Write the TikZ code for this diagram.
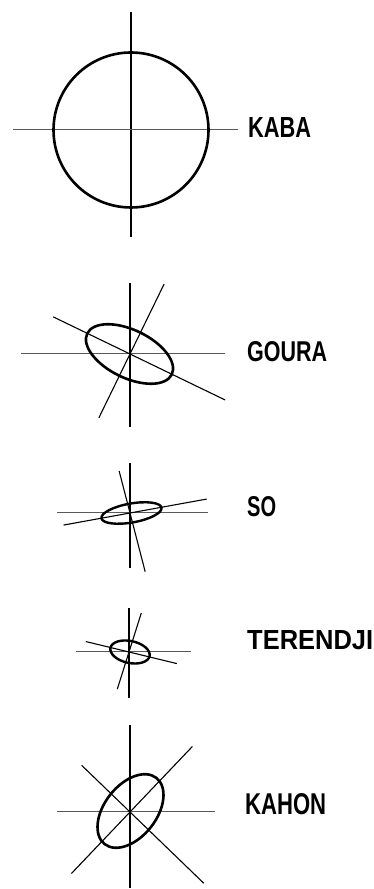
\documentclass[tikz,border=0pt]{standalone}
\usepackage{fontspec}
\setmainfont{Liberation Sans}
\usepackage{graphicx}
\tikzset{
  axisline/.style={line width=1.1pt, black},
  faintline/.style={line width=1pt, black!65},
  outline/.style={line width=2.6pt, black},
  lbl/.style={anchor=west, inner sep=0pt, font=\bfseries}
}
\begin{document}
\begin{tikzpicture}[x=1pt,y=1pt]
\useasboundingbox (0,0) rectangle (373,889);
% ---------- KABA ----------
\coordinate (kc) at (131,759);
\draw[axisline] (131,877) coordinate (kt) -- (131,652) coordinate (kb);
\draw[faintline] (13,759) coordinate (kl) -- (238,759) coordinate (kr);
\draw[outline] (kc) circle [radius=77.5pt];
\node[lbl] (kaba) at (248,761) {\resizebox{63pt}{20pt}{KABA}};
% ---------- GOURA ----------
\coordinate (gc) at (130,535);
\draw[axisline] (130,606) -- (130,462);
\draw[faintline] (21,535) -- (225,535);
\draw[axisline] ([shift={(154.2:85.4pt)}]gc) -- ([shift={(-25.8:105.6pt)}]gc);
\draw[axisline] ([shift={(64:77.8pt)}]gc) -- ([shift={(244:71.1pt)}]gc);
\begin{scope}[shift={(129.5,535)}, rotate=-25.8]
  \draw[outline] (0,0) ellipse [x radius=47pt, y radius=24pt];
\end{scope}
\node[lbl] (goura) at (247,537) {\resizebox{80pt}{20pt}{GOURA}};
% ---------- SO ----------
\coordinate (sc) at (130,376);
\draw[axisline] (130,426) -- (130,321);
\draw[faintline] (57,376) -- (208,376);
\draw[axisline] ([shift={(10.3:78pt)}]sc) -- ([shift={(190.3:67.5pt)}]sc);
\draw[axisline] ([shift={(104.5:43.4pt)}]sc) -- ([shift={(284.5:60.6pt)}]sc);
\begin{scope}[shift={(131.5,376)}, rotate=10]
  \draw[line width=2.4pt] (0,0) ellipse [x radius=30.5pt, y radius=9.5pt];
\end{scope}
\node[lbl] (so) at (247,382) {\resizebox{29pt}{20pt}{SO}};
% ---------- TERENDJI ----------
\coordinate (tc) at (129,237);
\draw[axisline] (129,281) -- (129,191);
\draw[faintline] (76,237) -- (191,237);
\draw[axisline] ([shift={(166.4:44.4pt)}]tc) -- ([shift={(-13.6:49.2pt)}]tc);
\draw[axisline] ([shift={(72.5:40.8pt)}]tc) -- ([shift={(252.5:38.9pt)}]tc);
\begin{scope}[shift={(130,237)}, rotate=-12]
  \draw[line width=2.4pt] (0,0) ellipse [x radius=20pt, y radius=11pt];
\end{scope}
\node[lbl] (terendji) at (247,249) {\resizebox{126pt}{19pt}{TERENDJI}};
% ---------- KAHON ----------
\coordinate (hc) at (130,77);
\draw[axisline] (130,164) -- (130,1);
\draw[faintline] (57,77) -- (215,77);
\draw[axisline] ([shift={(46.4:90.5pt)}]hc) -- ([shift={(226.4:84.9pt)}]hc);
\draw[axisline] ([shift={(136:67.2pt)}]hc) -- ([shift={(-44:102.6pt)}]hc);
\begin{scope}[shift={(130.5,78)}, rotate=52]
  \draw[outline] (0,0) ellipse [x radius=42pt, y radius=26pt];
\end{scope}
\node[lbl] (kahon) at (245,85) {\resizebox{81pt}{21pt}{KAHON}};
\end{tikzpicture}
\end{document}
